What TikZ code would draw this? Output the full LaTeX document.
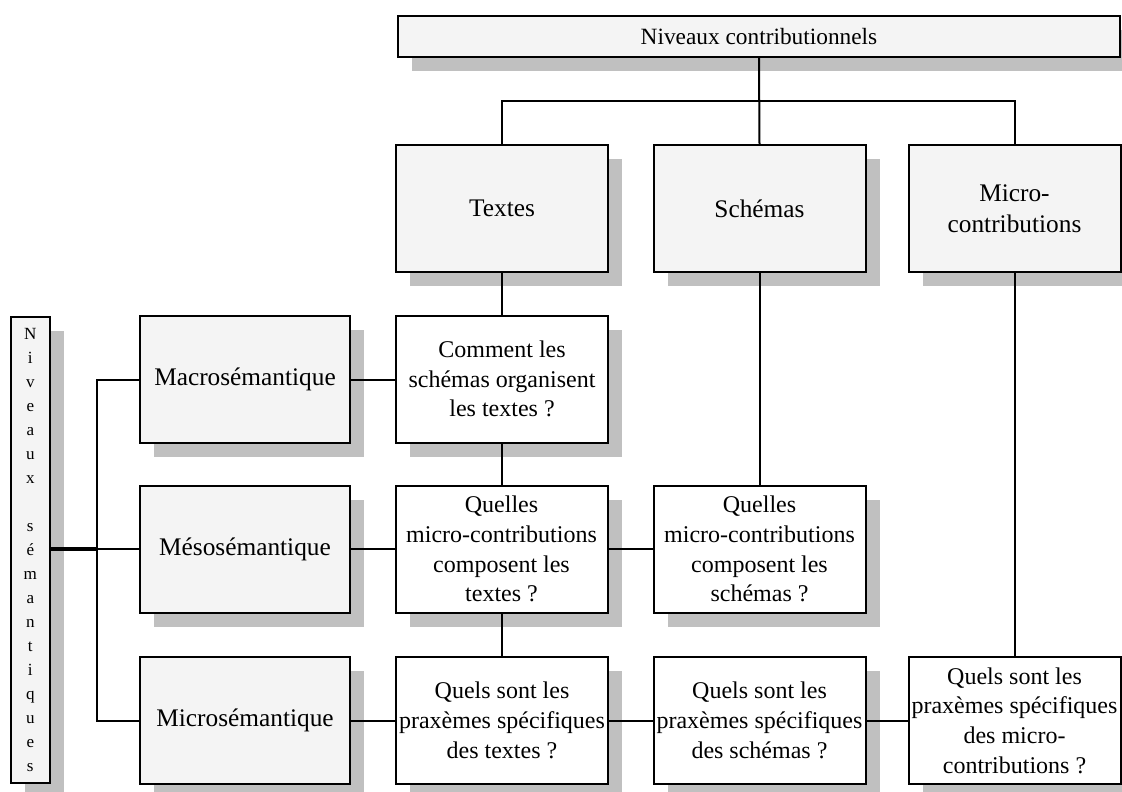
\documentclass[tikz,border=0pt]{standalone}
\usepackage{fontspec}
\setmainfont{Liberation Serif}
\usetikzlibrary{shadows}
\definecolor{boxgray}{HTML}{F4F4F4}
\definecolor{shadowgray}{HTML}{C0C0C0}
\begin{document}
\begin{tikzpicture}[x=0.75pt,y=-0.75pt,
  every node/.style={font=\fontsize{18}{22.3}\selectfont},
  base/.style={draw=black, line width=1.5pt, inner sep=0pt, align=center,
    drop shadow={shadow xshift=10.5pt, shadow yshift=-10.5pt, fill=shadowgray, opacity=1}},
  greybox/.style={base, fill=boxgray, minimum width=159pt, minimum height=95.25pt,
    font=\fontsize{19}{23}\selectfont},
  whitebox/.style={base, fill=white, minimum width=159pt, minimum height=95.25pt},
  link/.style={line width=1.5pt},
  thicklink/.style={line width=2.6pt}]
\useasboundingbox (0,0) rectangle (1122,792);
\fill[white] (0,0) rectangle (1122,792);

\node[greybox, minimum width=541.5pt, minimum height=30.75pt, font=\fontsize{17.5}{20}\selectfont] (top) at (759,36.5) {Niveaux contributionnels};

\node[greybox] (tx) at (502,208.5) {Textes};
\node[greybox] (sc) at (759.5,208.5) {Schémas};
\node[greybox] (mc) at (1014.5,208.5) {Micro-\\contributions};

\node[whitebox] (q1) at (502,379) {Comment les\\schémas organisent\\les textes~?};
\node[whitebox] (q2) at (501.5,549) {Quelles\\micro-contributions\\composent les\\textes~?};
\node[whitebox] (q3) at (759.5,549) {Quelles\\micro-contributions\\composent les\\schémas~?};
\node[whitebox] (q4) at (502,720.5) {Quels sont les\\praxèmes spécifiques\\des textes~?};
\node[whitebox] (q5) at (759.5,720.5) {Quels sont les\\praxèmes spécifiques\\des schémas~?};
\node[whitebox] (q6) at (1014.5,720.5) {Quels sont les\\praxèmes spécifiques\\des micro-\\contributions~?};

\node[greybox, minimum width=157.5pt] (ma) at (245,379.5) {Macrosémantique};
\node[greybox, minimum width=157.5pt] (me) at (245,549) {Mésosémantique};
\node[greybox, minimum width=157.5pt] (mi) at (245,720.5) {Microsémantique};

\node[greybox, minimum width=29.5pt, minimum height=349.5pt, font=\fontsize{12.8}{18}\selectfont] (ns) at (30.3,550)
  {N\\i\\v\\e\\a\\u\\x\\~\\s\\é\\m\\a\\n\\t\\i\\q\\u\\e\\s};

% top tree
\coordinate (bus) at (759,101);
\draw[link] (top.south) -- (sc.north);
\draw[link] (tx.north) |- (bus) -| (mc.north);
\draw[link] (tx.south) -- (q1.north);
\draw[link] (q1.south) -- (q1.south |- q2.north);
\draw[link] (q1.south |- q2.south) -- (q4.north);
\draw[link] (sc.south) -- (q3.north);
\draw[link] (mc.south) -- (q6.north);

% rows
\draw[link] (ma.east) -- (ma.east -| q1.west);
\draw[link] (me.east) -- (q2.west);
\draw[link] (q2.east) -- (q3.west);
\draw[link] (mi.east) -- (q4.west);
\draw[link] (q4.east) -- (q5.west);
\draw[link] (q5.east) -- (q6.west);

% left bus
\coordinate (lb) at (96.7,549);
\draw[thicklink] (lb -| ns.east) -- (lb);
\draw[link] (ma.west) -| (lb) |- (mi.west);
\draw[link] (lb) -- (me.west);
\end{tikzpicture}
\end{document}
